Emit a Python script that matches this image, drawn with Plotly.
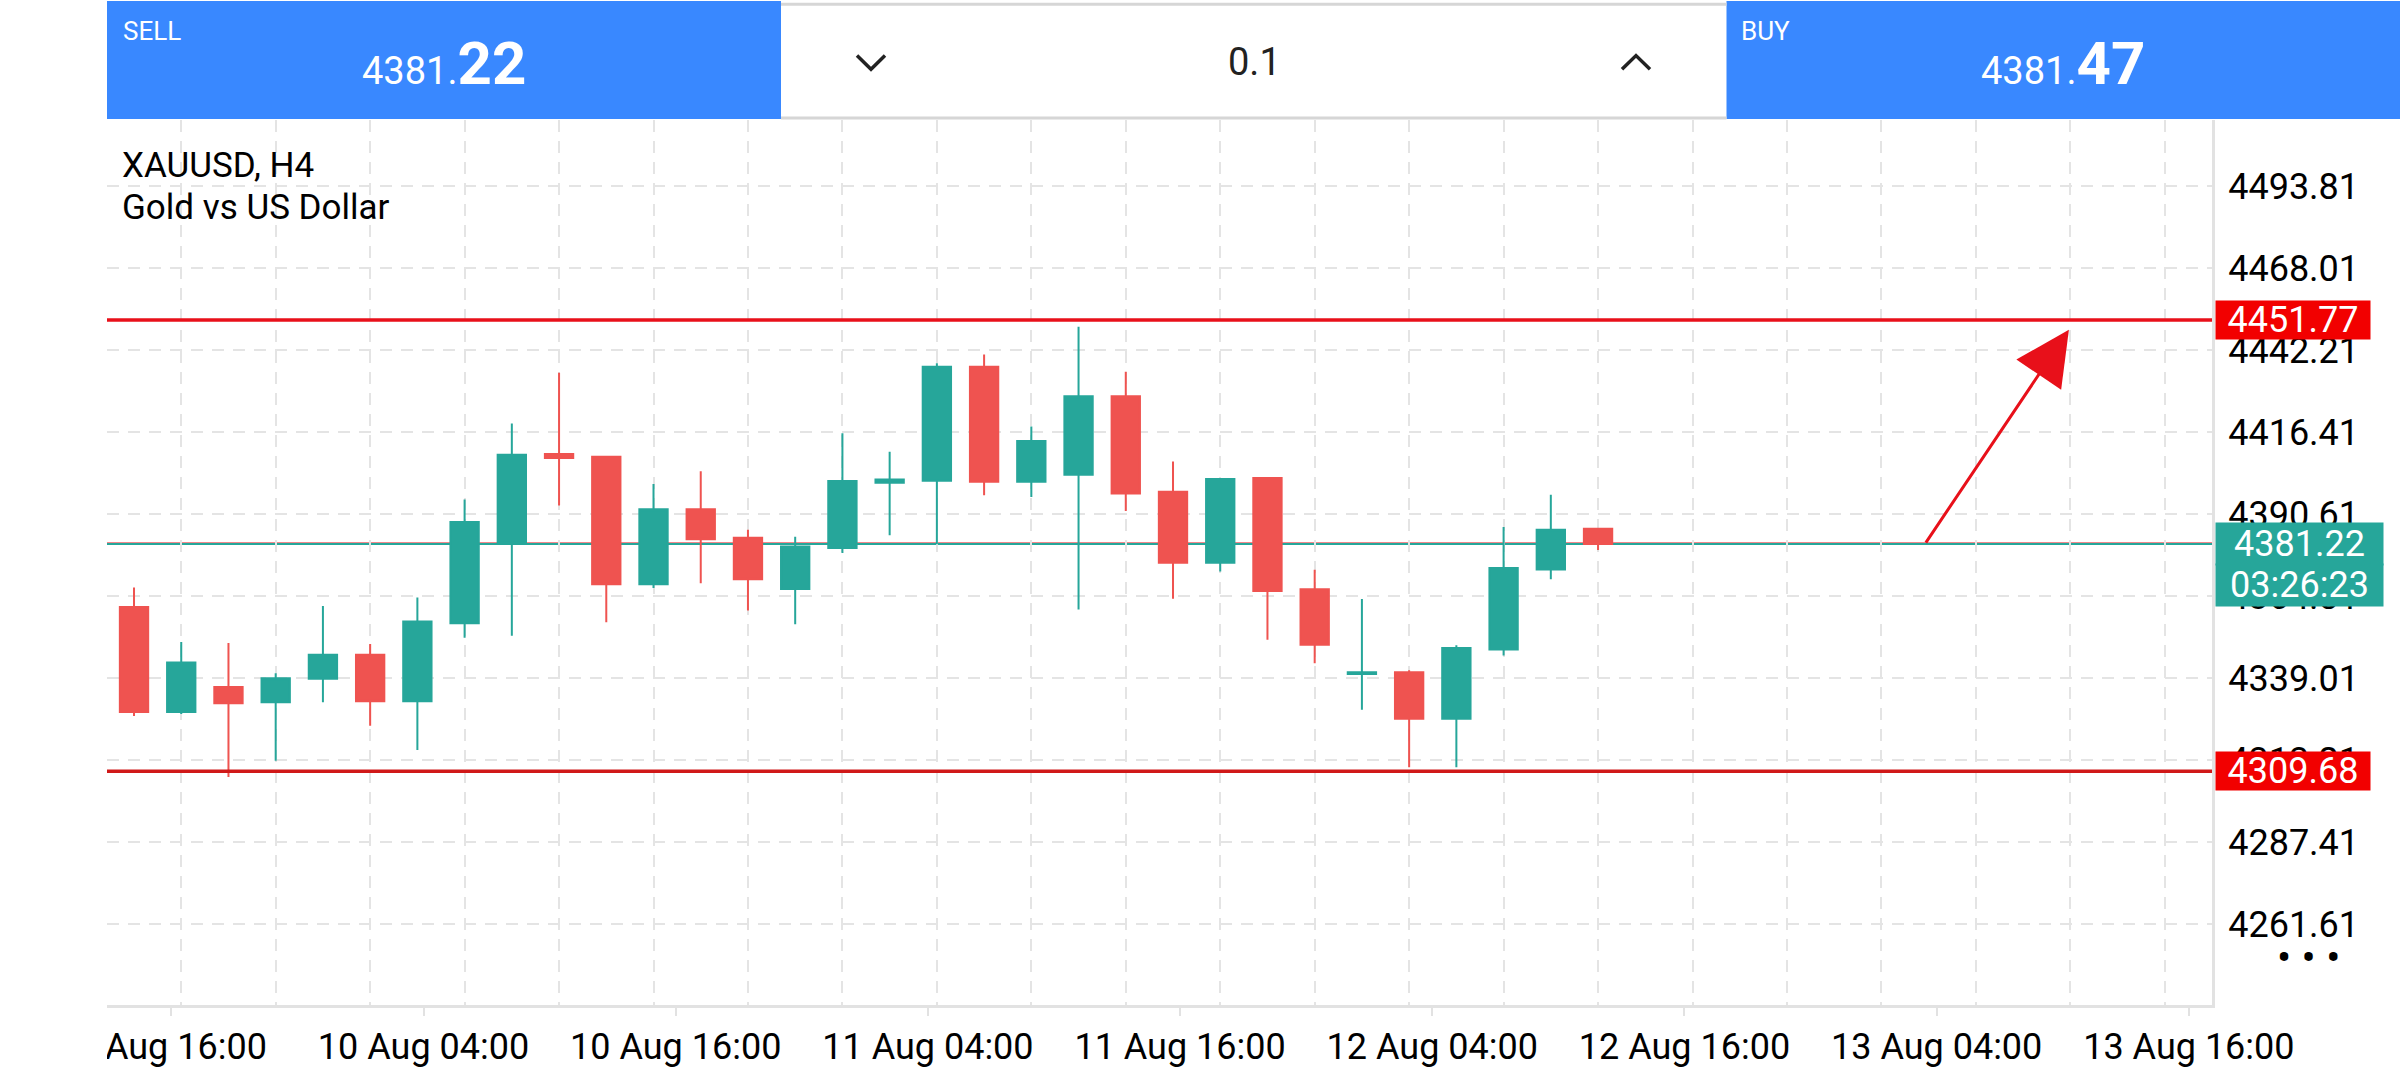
import plotly.graph_objects as go

# ---------------- data ----------------
bar_index = list(range(32))
open_ = [4361.43, 4328.36, 4336.24, 4331.43, 4338.80, 4346.38, 4331.74, 4356.31,
         4381.80, 4409.55, 4408.73, 4368.59, 4392.14, 4383.24, 4367.06, 4379.96,
         4400.54, 4401.15, 4436.99, 4400.85, 4403.00, 4427.77, 4397.67, 4375.35,
         4401.97, 4366.96, 4340.34, 4340.85, 4326.21, 4348.02, 4373.20, 4386.00]
high = [4367.57, 4350.37, 4350.06, 4340.54, 4361.73, 4349.76, 4364.40, 4395.21,
        4419.17, 4435.15, 4409.00, 4400.13, 4404.12, 4385.69, 4383.54, 4416.10,
        4410.27, 4438.11, 4440.88, 4418.25, 4449.58, 4435.45, 4407.19, 4401.87,
        4402.28, 4373.10, 4363.89, 4341.46, 4349.35, 4386.61, 4396.75, 4386.21]
low = [4327.13, 4327.74, 4307.88, 4313.00, 4331.43, 4324.06, 4316.38, 4351.70,
       4352.32, 4393.37, 4356.62, 4367.37, 4368.90, 4360.30, 4356.00, 4378.42,
       4383.95, 4381.19, 4396.55, 4396.03, 4360.61, 4391.63, 4363.99, 4372.59,
       4351.09, 4343.72, 4329.07, 4310.95, 4310.95, 4346.17, 4370.13, 4379.34]
close = [4328.36, 4343.92, 4331.12, 4339.00, 4346.38, 4331.74, 4356.82, 4388.15,
         4409.34, 4408.32, 4368.59, 4392.14, 4382.72, 4370.13, 4380.47, 4401.05,
         4401.56, 4436.99, 4400.85, 4413.64, 4427.77, 4397.16, 4375.35, 4401.67,
         4366.44, 4349.55, 4340.85, 4326.21, 4348.53, 4373.71, 4385.69, 4381.22]

y_tick_vals = [4261.61, 4287.41, 4313.21, 4339.01, 4364.81, 4390.61, 4416.41,
               4442.21, 4468.01, 4493.81]
x_tick_pos = [0.79, 6.13, 11.47, 16.81, 22.15, 27.49, 32.83, 38.17, 43.51]
x_tick_text = ["9 Aug 16:00", "10 Aug 04:00", "10 Aug 16:00", "11 Aug 04:00",
               "11 Aug 16:00", "12 Aug 04:00", "12 Aug 16:00", "13 Aug 04:00",
               "13 Aug 16:00"]
grid_x = list(range(1, 44, 2))

symbol_line1 = "XAUUSD, H4"
symbol_line2 = "Gold vs US Dollar"
resistance = 4451.77
support = 4309.68
bid = 4381.22
ask = 4381.47
timer = "03:26:23"
lot = "0.1"
arrow_from = (37.92, 4381.22)
arrow_to = (40.97, 4448.66)
x_range = [-0.572, 44.0]
y_range = [4236.12, 4514.70]

# ---------------- styling ----------------
W, H = 2400, 1080
M_L, M_R, M_T, M_B = 107, 188, 120, 53
PW = W - M_L - M_R
PH = H - M_T - M_B


def px(x):
    return (x - M_L) / PW


def py(y):
    return (H - M_B - y) / PH


TEAL = "#26A69A"
RED = "#EF5350"
LINE_RED = "#E8101A"
LINE_RED2 = "#D01818"
LABEL_RED = "#F20000"
BLUE = "#3988FF"
GRID = "#E4E4E4"
AXIS = "#E2E2E2"
FONT = "Roboto"

fig = go.Figure()
fig.add_trace(go.Candlestick(
    x=bar_index, open=open_, high=high, low=low, close=close,
    increasing=dict(line=dict(color=TEAL, width=2), fillcolor=TEAL),
    decreasing=dict(line=dict(color=RED, width=2), fillcolor=RED),
    whiskerwidth=0, showlegend=False, hoverinfo="skip",
))

shapes = []
# price lines
shapes.append(dict(type="line", xref="paper", x0=0, x1=1, yref="y", y0=ask, y1=ask,
                   line=dict(color=LINE_RED, width=1.5), layer="between"))
shapes.append(dict(type="line", xref="paper", x0=0, x1=1, yref="y", y0=bid, y1=bid,
                   line=dict(color=TEAL, width=2), layer="between"))
shapes.append(dict(type="line", xref="paper", x0=0, x1=1, yref="y", y0=resistance, y1=resistance,
                   line=dict(color=LINE_RED, width=3.5), layer="above"))
shapes.append(dict(type="line", xref="paper", x0=0, x1=1, yref="y", y0=support, y1=support,
                   line=dict(color=LINE_RED2, width=3.5), layer="above"))
# cover to clip the first time label at the plot's left edge
shapes.append(dict(type="rect", xref="paper", yref="paper", x0=px(-60), x1=px(M_L),
                   y0=py(H + 20), y1=py(H - M_B + 4), fillcolor="white",
                   line=dict(width=0), layer="above"))
# header panels
shapes.append(dict(type="rect", xref="paper", yref="paper", x0=px(M_L), x1=px(781),
                   y0=py(119), y1=py(-2), fillcolor=BLUE, line=dict(width=0), layer="above"))
shapes.append(dict(type="rect", xref="paper", yref="paper", x0=px(1726.5), x1=px(W + 2),
                   y0=py(119), y1=py(-2), fillcolor=BLUE, line=dict(width=0), layer="above"))
shapes.append(dict(type="line", xref="paper", yref="paper", x0=px(781), x1=px(1726.5),
                   y0=py(1.5), y1=py(1.5), line=dict(color="#D6D6D6", width=3), layer="above"))
shapes.append(dict(type="line", xref="paper", yref="paper", x0=px(781), x1=px(1726.5),
                   y0=py(118), y1=py(118), line=dict(color="#D6D6D6", width=3), layer="above"))
# chevrons
shapes.append(dict(type="path", xref="paper", yref="paper",
                   path=f"M {px(857)},{py(54)} L {px(871)},{py(68)} L {px(885)},{py(54)}",
                   line=dict(color="#222222", width=3.5), layer="above"))
shapes.append(dict(type="path", xref="paper", yref="paper",
                   path=f"M {px(1622)},{py(68)} L {px(1636)},{py(54)} L {px(1650)},{py(68)}",
                   line=dict(color="#222222", width=3.5), layer="above"))

ann = []
white = dict(family=FONT, color="white")
# header text
ann.append(dict(xref="paper", yref="paper", x=px(121), y=py(29), xanchor="left", yanchor="middle",
                text="SELL", showarrow=False, font=dict(white, size=26)))
ann.append(dict(xref="paper", yref="paper", x=px(1739), y=py(29), xanchor="left", yanchor="middle",
                text="BUY", showarrow=False, font=dict(white, size=26)))
bid_s = f"{bid:.2f}"
ask_s = f"{ask:.2f}"
ann.append(dict(xref="paper", yref="paper", x=px(444), y=py(62), xanchor="center", yanchor="middle",
                text=f"{bid_s[:-2]}<b><span style='font-size:60px'>{bid_s[-2:]}</span></b>",
                showarrow=False, font=dict(white, size=38)))
ann.append(dict(xref="paper", yref="paper", x=px(2063), y=py(62), xanchor="center", yanchor="middle",
                text=f"{ask_s[:-2]}<b><span style='font-size:60px'>{ask_s[-2:]}</span></b>",
                showarrow=False, font=dict(white, size=38)))
ann.append(dict(xref="paper", yref="paper", x=px(1254), y=py(61), xanchor="center", yanchor="middle",
                text=lot, showarrow=False, font=dict(family=FONT, color="#222222", size=38)))
# symbol
ann.append(dict(xref="paper", yref="paper", x=px(120), y=py(167), xanchor="left", yanchor="middle",
                text=symbol_line1, showarrow=False, font=dict(family=FONT, color="black", size=35)))
ann.append(dict(xref="paper", yref="paper", x=px(120), y=py(210), xanchor="left", yanchor="middle",
                text=symbol_line2, showarrow=False, font=dict(family=FONT, color="black", size=35)))
# right labels
for val, col in [(resistance, LABEL_RED), (support, LABEL_RED)]:
    ann.append(dict(xref="paper", yref="y", x=px(2215), y=val, xanchor="left", yanchor="middle",
                    text=f"{val:.2f}", showarrow=False, bgcolor=col, width=150, height=34,
                    borderpad=2, align="center", font=dict(white, size=36)))
ann.append(dict(xref="paper", yref="y", x=px(2215), y=bid, xanchor="left", yanchor="middle",
                text=bid_s, showarrow=False, bgcolor=TEAL, width=165, height=40,
                borderpad=1, align="center", font=dict(white, size=36)))
ann.append(dict(xref="paper", yref="y", x=px(2215), y=bid, yshift=-41, xanchor="left",
                yanchor="middle", text=timer, showarrow=False, bgcolor=TEAL, width=165,
                height=40, borderpad=1, align="center", font=dict(white, size=36)))
# dots
ann.append(dict(xref="paper", yref="paper", x=px(2308), y=py(978), xanchor="center", yanchor="middle",
                text="• • •", showarrow=False, font=dict(family=FONT, color="black", size=42)))
# arrow
ann.append(dict(x=arrow_to[0], y=arrow_to[1], xref="x", yref="y",
                ax=arrow_from[0], ay=arrow_from[1], axref="x", ayref="y",
                text="", showarrow=True, arrowhead=2, arrowsize=3.6, arrowwidth=3,
                arrowcolor=LINE_RED, standoff=0))

fig.update_layout(
    width=W, height=H,
    margin=dict(l=M_L, r=M_R, t=M_T, b=M_B, pad=0),
    paper_bgcolor="white", plot_bgcolor="white",
    boxgap=0.4, boxgroupgap=0,
    showlegend=False,
    shapes=shapes, annotations=ann,
    font=dict(family=FONT, color="black"),
    xaxis=dict(
        range=x_range, rangeslider=dict(visible=False),
        tickmode="array", tickvals=x_tick_pos, ticktext=x_tick_text,
        ticks="outside", ticklen=8, tickwidth=2, tickcolor=AXIS,
        tickfont=dict(family=FONT, size=36, color="black"),
        showgrid=False, zeroline=False,
        showline=True, linecolor=AXIS, linewidth=3,
        minor=dict(tickmode="array", tickvals=grid_x, showgrid=True, gridcolor=GRID,
                   gridwidth=2, griddash="12px,9px", ticks=""),
        fixedrange=True,
    ),
    yaxis=dict(
        range=y_range, side="right",
        tickmode="array", tickvals=y_tick_vals, ticktext=[f"{v:.2f}" for v in y_tick_vals],
        ticks="", ticklabelstandoff=6,
        tickfont=dict(family=FONT, size=36, color="black"),
        showgrid=True, gridcolor=GRID, gridwidth=2, griddash="12px,9px",
        zeroline=False, showline=True, linecolor=AXIS, linewidth=3,
        fixedrange=True,
    ),
)

fig.write_html("out.html", config=dict(displayModeBar=False),
               post_script="document.body.style.margin='0px';document.body.style.overflow='hidden';")
